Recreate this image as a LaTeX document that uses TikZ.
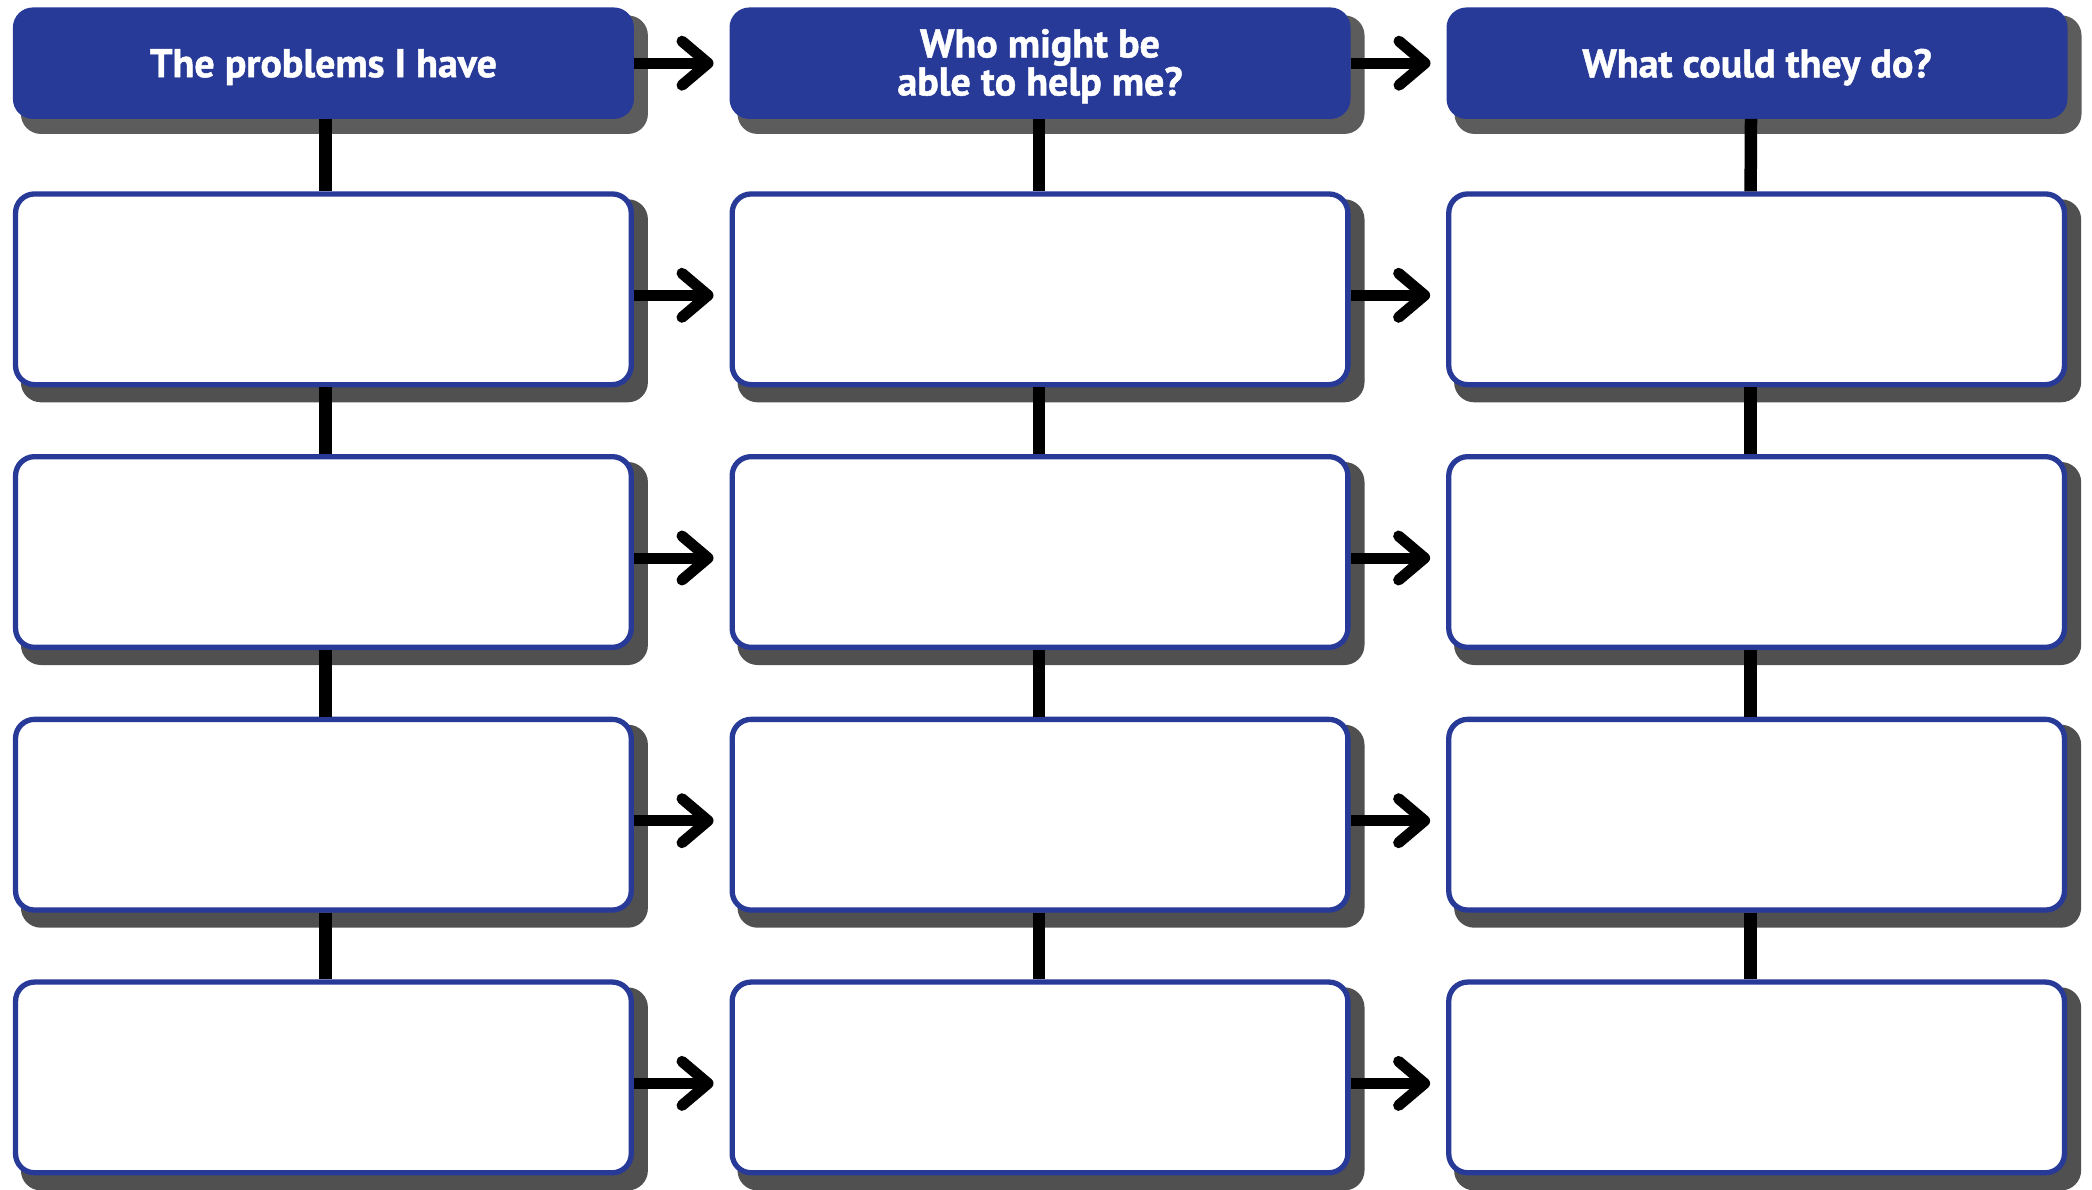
\documentclass[tikz,border=0pt]{standalone}
\usepackage{fontspec}
\newfontfamily\hfont[FakeBold=1.2]{PT Sans}
\usetikzlibrary{arrows.meta,backgrounds}
\definecolor{hblue}{RGB}{40,58,151}
\definecolor{hshadow}{RGB}{92,92,92}
\definecolor{bshadow}{RGB}{80,80,80}
\begin{document}
\begin{tikzpicture}[x=1pt,y=-1pt,
  head/.style={rectangle,rounded corners=20pt,fill=hblue,minimum width=621pt,minimum height=111.5pt,
    text=white,font=\hfont\bfseries\fontsize{40}{37}\selectfont,align=center,inner sep=0pt,outer sep=0pt,
    text depth=0pt},
  blank/.style={rectangle,rounded corners=19pt,fill=white,draw=hblue,line width=5.3pt,
    minimum width=615.7pt,minimum height=190.7pt},
  shadowbox/.style={rounded corners=20pt},
  vlink/.style={line width=12.5pt},
  arr/.style={line width=11pt,-{Straight Barb[length=26pt,width=44pt,round]},shorten >=16pt}]
\useasboundingbox (0,0) rectangle (2092,1190);
\node[head] (h1) at (323.4,63.2) {};
\node[head] (h2) at (1040,63.2) {};
\node[head] (h3) at (1757,63.2) {};
\node[text=white,font=\hfont\bfseries\fontsize{40}{37}\selectfont,align=center] (t1) at ([yshift=-4pt]h1.center) {The problems I have};
\node[text=white,font=\hfont\bfseries\fontsize{40}{37}\selectfont,align=center] (t2) at ([yshift=-3pt]h2.center) {Who might be\\able to help me?};
\node[text=white,font=\hfont\bfseries\fontsize{40}{37}\selectfont,align=center] (t3) at ([yshift=-4pt]h3.center) {What could they do?};
\foreach \r/\y in {1/289.3,2/552,3/814.7,4/1077.4}{
  \node[blank] (b\r1) at (323.4,\y) {};
  \node[blank] (b\r2) at (1040,\y) {};
  \node[blank] (b\r3) at (1756.6,\y) {};
}
\begin{scope}[on background layer]
\foreach \c in {1,2,3}{
  \fill[hshadow,shadowbox] ([shift={(8,8)}]h\c.north west) rectangle ([shift={(14,15)}]h\c.south east);
  \foreach \r in {1,2,3,4}{
    \fill[bshadow,shadowbox] ([shift={(8,8)}]b\r\c.north west) rectangle ([shift={(14,15)}]b\r\c.south east);
  }
}
\end{scope}
% vertical connectors
\foreach \c/\dx in {1/2,2/-1,3/-6}{
  \draw[vlink] ([xshift=\dx pt]h\c.south) -- ([xshift=\dx pt]b1\c.north);
  \draw[vlink] ([xshift=\dx pt]b1\c.south) -- ([xshift=\dx pt]b2\c.north);
  \draw[vlink] ([xshift=\dx pt]b2\c.south) -- ([xshift=\dx pt]b3\c.north);
  \draw[vlink] ([xshift=\dx pt]b3\c.south) -- ([xshift=\dx pt]b4\c.north);
}
% horizontal arrows
\draw[arr] (h1.east) -- (h2.west);
\draw[arr] (h2.east) -- (h3.west);
\foreach \r in {1,2,3,4}{
  \draw[arr] ([yshift=-6pt]b\r1.east) -- ([yshift=-6pt]b\r2.west);
  \draw[arr] ([yshift=-6pt]b\r2.east) -- ([yshift=-6pt]b\r3.west);
}
\end{tikzpicture}
\end{document}
